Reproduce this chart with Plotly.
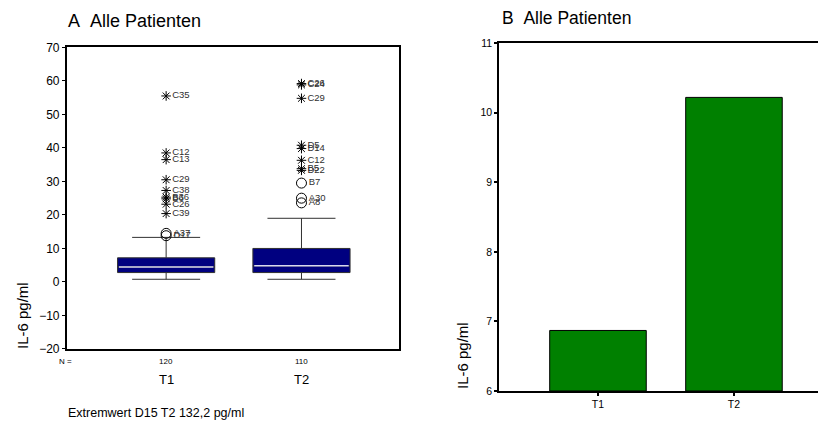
import plotly.graph_objects as go

# ---------------- data ----------------
groups = ["T1", "T2"]
n_counts = ["120", "110"]
q1 = [2.8, 2.8]
median = [4.5, 4.8]
q3 = [7.2, 10.0]
lower_whisker = [0.8, 0.8]
upper_whisker = [13.3, 19.0]

# outliers (circles) and extreme values (stars)
t1_circle_vals = [14.5, 13.8]
t1_circle_labels = ["A37", "D17"]
t1_star_vals = [55.5, 38.5, 36.5, 30.5, 27.3, 25.3, 24.8, 23.2, 20.4]
t1_star_labels = ["C35", "C12", "C13", "C29", "C38", "B36", "B6", "C26", "C39"]
t2_circle_vals = [29.5, 25.0, 23.6]
t2_circle_labels = ["B7", "A30", "A8"]
t2_star_vals = [59.2, 58.8, 54.8, 40.8, 39.8, 36.3, 33.8, 33.3]
t2_star_labels = ["C26", "C24", "C29", "D5", "D14", "C12", "B5", "D22"]

bar_categories = ["T1", "T2"]
bar_means = [6.87, 10.22]

FONT = "Liberation Sans, Arial, sans-serif"
pos = [1, 2]
bw = 0.718

fig = go.Figure()

# ---------- Panel A: boxplot ----------
for i in range(2):
    fig.add_trace(go.Box(
        x=[pos[i]], q1=[q1[i]], median=[median[i]], q3=[q3[i]],
        lowerfence=[lower_whisker[i]], upperfence=[upper_whisker[i]],
        width=bw, whiskerwidth=0.7, fillcolor="#000080",
        line=dict(color="#303030", width=1), boxpoints=False,
        xaxis="x", yaxis="y", showlegend=False, hoverinfo="skip"))
    fig.add_trace(go.Scatter(
        x=[pos[i] - bw / 2 + 0.01, pos[i] + bw / 2 - 0.01], y=[median[i], median[i]],
        mode="lines", line=dict(color="#d8d8f0", width=1.5),
        xaxis="x", yaxis="y", showlegend=False, hoverinfo="skip"))

outlier_sets = [
    (pos[0], t1_circle_vals, t1_circle_labels, "circle-open", 10),
    (pos[0], t1_star_vals, t1_star_labels, "asterisk-open", 8),
    (pos[1], t2_circle_vals, t2_circle_labels, "circle-open", 10),
    (pos[1], t2_star_vals, t2_star_labels, "asterisk-open", 8),
]
for xp, vals, labs, sym, sz in outlier_sets:
    fig.add_trace(go.Scatter(
        x=[xp] * len(vals), y=vals, text=labs, mode="markers+text",
        textposition="middle right",
        textfont=dict(family=FONT, size=9.5, color="#303030"),
        marker=dict(symbol=sym, size=sz, color="black", line=dict(color="black", width=1)),
        xaxis="x", yaxis="y", showlegend=False, hoverinfo="skip"))

# ---------- Panel B: bar chart ----------
fig.add_trace(go.Bar(
    x=[0, 1], y=[m - 6 for m in bar_means], base=6, width=0.71,
    marker=dict(color="#008000", line=dict(color="black", width=1)),
    xaxis="x2", yaxis="y2", showlegend=False, hoverinfo="skip"))

fig.update_layout(
    width=818, height=423, autosize=False,
    margin=dict(l=0, r=0, t=0, b=0, pad=0),
    paper_bgcolor="white", plot_bgcolor="white",
    font=dict(family=FONT, color="black"),
    xaxis=dict(domain=[0.0815, 0.488], range=[0.265, 2.722], showgrid=False,
               zeroline=False, showline=True, linecolor="black", linewidth=1.5,
               mirror=True, showticklabels=False, ticks="", automargin=False),
    yaxis=dict(domain=[0.175, 0.888], range=[-20, 70], tickvals=list(range(-20, 71, 10)),
               showgrid=False, zeroline=False, showline=True, linecolor="black",
               linewidth=1.5, mirror=True, ticks="outside", ticklen=3,
               tickcolor="black", tickfont=dict(size=12, family=FONT), automargin=False),
    xaxis2=dict(domain=[0.610, 1.0], range=[-0.728, 1.618], anchor="y2",
                tickvals=[0, 1], ticktext=bar_categories, showgrid=False,
                zeroline=False, showline=True, linecolor="black", linewidth=1.5,
                mirror=True, ticks="outside", ticklen=3, tickwidth=2,
                tickcolor="black", tickfont=dict(size=10.5, family=FONT), automargin=False),
    yaxis2=dict(domain=[0.0757, 0.898], range=[6, 11], anchor="x2",
                tickvals=[6, 7, 8, 9, 10, 11], showgrid=False, zeroline=False,
                showline=True, linecolor="black", linewidth=1.5, ticks="outside",
                ticklen=3, tickwidth=2, tickcolor="black",
                tickfont=dict(size=10.5, family=FONT), automargin=False),
)


def P(px_y):
    return 1 - px_y / 423


ann = []
ann.append(dict(text="A\u00a0\u00a0Alle Patienten", x=66 / 818, y=P(21), xref="paper", yref="paper",
                xanchor="left", yanchor="middle", showarrow=False, font=dict(size=18)))
ann.append(dict(text="B\u00a0\u00a0Alle Patienten", x=500 / 818, y=P(18), xref="paper", yref="paper",
                xanchor="left", yanchor="middle", showarrow=False, font=dict(size=17.5)))
ann.append(dict(text="IL-6 pg/ml", x=22 / 818, y=P(316), xref="paper", yref="paper",
                xanchor="center", yanchor="middle",
                textangle=-90, showarrow=False, font=dict(size=15)))
ann.append(dict(text="IL-6 pg/ml", x=462 / 818, y=P(356), xref="paper", yref="paper",
                xanchor="center", yanchor="middle",
                textangle=-90, showarrow=False, font=dict(size=15)))
ann.append(dict(text="N =", x=65 / 818, y=P(361), xref="paper", yref="paper",
                xanchor="center", yanchor="middle", showarrow=False, font=dict(size=8)))
for i in range(2):
    ann.append(dict(text=n_counts[i], x=pos[i], y=P(361), xref="x", yref="paper",
                    xanchor="center", yanchor="middle", showarrow=False, font=dict(size=8)))
    ann.append(dict(text=groups[i], x=pos[i], y=P(379), xref="x", yref="paper",
                    xanchor="center", yanchor="middle", showarrow=False, font=dict(size=13)))
ann.append(dict(text="Extremwert D15 T2 132,2 pg/ml", x=66 / 818, y=P(413),
                xref="paper", yref="paper", xanchor="left", yanchor="middle", showarrow=False,
                font=dict(size=12.5)))
fig.update_layout(annotations=ann)

fig.write_html("out.html")
